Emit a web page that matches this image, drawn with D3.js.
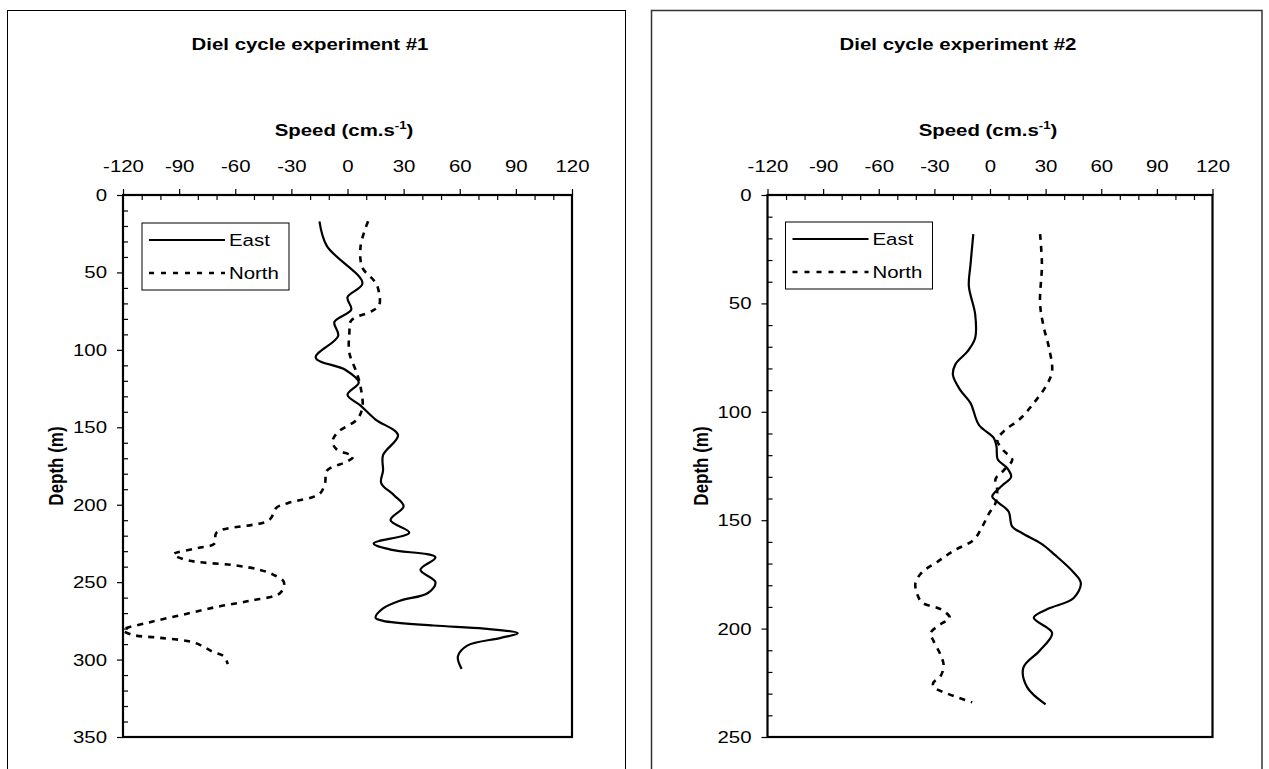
<!DOCTYPE html>
<html>
<head>
<meta charset="utf-8">
<script src="https://cdn.jsdelivr.net/npm/d3@7"></script>
<style>
  html, body { margin: 0; padding: 0; background: #fff; }
  svg { display: block; }
  text { font-family: "Liberation Sans", Arial, sans-serif; fill: #000; }
</style>
</head>
<body>
<svg id="chart" width="1269" height="769"></svg>
<script>
// Speed axis (shared by both panels)
const speedTicks = [-120, -90, -60, -30, 0, 30, 60, 90, 120];
const speedMinor = d3.range(-110, 120, 10).filter(v => v % 30 !== 0);

// Experiment #1: depth (m) and velocity components (cm/s)
const exp1DepthTicks = [0, 50, 100, 150, 200, 250, 300, 350];
const exp1EastDepth = [17, 33, 57, 66, 74, 82, 91, 105, 113, 121, 129, 136, 145, 155, 168, 178, 186, 194, 201, 210, 218, 225, 229, 234, 242, 250, 257, 262, 267, 273, 275, 278, 280, 283, 286, 291, 298, 306];
const exp1East      = [-15, -11, 8, 0, 2, -7, -5, -17, -1, 6, 0, 7, 15, 27, 19, 19, 18, 25, 30, 23, 33, 14, 23, 47, 39, 47, 43, 28, 19, 15, 19, 46, 73, 91, 82, 64, 59, 61];
const exp1NorthDepth = [17, 33, 47, 55, 59, 71, 75, 81, 89, 102, 115, 124, 137, 145, 153, 159, 164, 169, 172, 178, 186, 193, 199, 202, 210, 218, 225, 228, 232, 236, 239, 242, 245, 250, 257, 262, 266, 271, 276, 281, 284, 286, 289, 295, 298, 303];
const exp1North      = [11, 7, 8, 14, 16, 17, 13, 2, 1, 1, 5, 7, 8, 5, -5, -8, -6, 3, 0, -11, -12, -15, -32, -38, -42, -70, -71, -80, -93, -85, -61, -47, -40, -34, -36, -52, -70, -88, -106, -120, -115, -100, -82, -72, -66, -64];

// Experiment #2
const exp2DepthTicks = [0, 50, 100, 150, 200, 250];
const exp2EastDepth = [18, 32, 42, 55, 66, 72, 78, 83, 90, 96, 106, 112, 116, 122, 126, 130, 134, 139, 142, 146, 153, 156, 161, 166, 174, 179, 186, 191, 195, 202, 210, 218, 227, 235];
const exp2East      = [-9, -10.5, -11.4, -8, -8, -12, -18.6, -20, -16, -10.5, -6, 2, 3.5, 4.2, 9.3, 11.4, 6.6, 1.2, 4.7, 10, 12, 17.4, 28, 35, 45, 49, 45, 31, 23.6, 33.5, 27, 18, 20, 30];
const exp2NorthDepth = [18, 32, 50, 61, 70, 81, 87, 96, 103, 109, 113, 118, 122, 127, 131, 136, 142, 147, 153, 159, 164, 169, 174, 179, 184, 188, 191, 195, 198, 202, 206, 212, 217, 222, 225, 227, 230, 234];
const exp2North      = [27, 28, 27, 29, 31.7, 33.5, 31, 23.6, 16.5, 7.4, 3.9, 7.4, 12, 7.4, 3, 3.9, 3, -0.6, -4.2, -8.7, -19.5, -28, -36.6, -40.2, -39.3, -36.6, -26.7, -21.7, -26.7, -32, -30.3, -26.7, -25, -26.7, -30.6, -30.3, -23, -9.6];

const seriesNames = ["East", "North"];

const SX = 1.2;           // horizontal text stretch
const FONT = 17;
const fmt = d => String(d);   // plain hyphen-minus, as in the printed axes

const svg = d3.select("#chart");

function stretchedText(g, x, y, str, opts = {}) {
  const t = g.append("text")
    .attr("transform", `translate(${x},${y}) scale(${SX},1)` + (opts.rotate ? ` rotate(${opts.rotate})` : ""))
    .attr("text-anchor", opts.anchor || "start")
    .attr("font-size", opts.size || FONT)
    .attr("font-weight", opts.bold ? "bold" : "normal");
  if (opts.dy) t.attr("dy", opts.dy);
  t.text(str);
  return t;
}

function drawPanel(cfg) {
  const g = svg.append("g");
  // outer chart area
  g.append("rect")
    .attr("x", cfg.box[0]).attr("y", cfg.box[1])
    .attr("width", cfg.box[2] - cfg.box[0]).attr("height", cfg.box[3] - cfg.box[1])
    .attr("fill", "#fff").attr("stroke", cfg.boxStroke).attr("stroke-width", cfg.boxWidth);

  const [L, T, R, B] = cfg.plot;
  const x = d3.scaleLinear().domain([-120, 120]).range([L, R]);
  const y = d3.scaleLinear().domain([0, cfg.depthMax]).range([T, B]);

  // title and axis titles
  stretchedText(g, cfg.titleX, 50, cfg.title, { anchor: "middle", bold: true });
  const sp = stretchedText(g, cfg.speedX, 136, "", { anchor: "middle", bold: true });
  sp.append("tspan").text("Speed (cm.s");
  sp.append("tspan").attr("font-size", 11).attr("dy", -7).text("-1");
  sp.append("tspan").attr("dy", 7).text(")");
  stretchedText(g, L - 60, (T + B) / 2, "Depth (m)", { anchor: "middle", bold: true, rotate: -90 });

  // top axis: major ticks outward with labels, minor ticks inward
  const top = g.append("g").attr("transform", `translate(0,${T})`)
    .call(d3.axisTop(x).tickValues(speedTicks).tickSize(6).tickPadding(17).tickFormat(fmt));
  const topMinor = g.append("g").attr("transform", `translate(0,${T})`)
    .call(d3.axisBottom(x).tickValues(speedMinor).tickSize(5).tickFormat(""));

  const left = g.append("g").attr("transform", `translate(${L},0)`)
    .call(d3.axisLeft(y).tickValues(cfg.depthTicks).tickSize(6).tickPadding(10).tickFormat(fmt));
  const leftMinor = g.append("g").attr("transform", `translate(${L},0)`)
    .call(d3.axisRight(y).tickValues(d3.range(10, cfg.depthMax, 10).filter(v => v % 50 !== 0)).tickSize(5).tickFormat(""));

  [top, topMinor, left, leftMinor].forEach(a => {
    a.select(".domain").remove();
    a.selectAll(".tick line").attr("stroke", "#000").attr("stroke-width", 1.2);
    a.selectAll("text").attr("font-family", "Liberation Sans, Arial, sans-serif").attr("font-size", FONT).attr("fill", "#000");
  });
  top.selectAll(".tick text").attr("transform", `scale(${SX},1)`);
  left.selectAll(".tick text").attr("x", -16 / SX).attr("transform", `scale(${SX},1)`);

  // plot frame
  g.append("rect").attr("x", L).attr("y", T).attr("width", R - L).attr("height", B - T)
    .attr("fill", "none").attr("stroke", "#000").attr("stroke-width", 2.2);

  // profiles
  const clipId = "clip" + cfg.id;
  g.append("clipPath").attr("id", clipId).append("rect")
    .attr("x", L).attr("y", T).attr("width", R - L).attr("height", B - T);
  const line = d3.line().x(d => x(d[1])).y(d => y(d[0])).curve(d3.curveCatmullRom.alpha(0.5));
  const lines = g.append("g").attr("clip-path", `url(#${clipId})`);
  lines.append("path").datum(d3.zip(cfg.eastDepth, cfg.east))
    .attr("d", line).attr("fill", "none").attr("stroke", "#000").attr("stroke-width", 2.2);
  lines.append("path").datum(d3.zip(cfg.northDepth, cfg.north))
    .attr("d", line).attr("fill", "none").attr("stroke", "#000").attr("stroke-width", 2.6)
    .attr("stroke-dasharray", "6,6");

  // legend
  const lx = L + cfg.legend[0], ly = T + cfg.legend[1];
  const leg = g.append("g");
  leg.append("rect").attr("x", lx).attr("y", ly).attr("width", 147).attr("height", 67)
    .attr("fill", "#fff").attr("stroke", "#000").attr("stroke-width", 1);
  seriesNames.forEach((name, i) => {
    const yy = ly + 17 + i * 33;
    leg.append("line").attr("x1", lx + 7).attr("x2", lx + 83).attr("y1", yy).attr("y2", yy)
      .attr("stroke", "#000").attr("stroke-width", i ? 2.6 : 2.2)
      .attr("stroke-dasharray", i ? "5,7" : null);
    stretchedText(leg, lx + 87, yy, name, { dy: "0.36em" });
  });
}

drawPanel({
  id: 1, box: [7.5, 10.5, 625.5, 800], boxStroke: "#000", boxWidth: 1,
  plot: [123, 195, 572, 737], depthMax: 350, depthTicks: exp1DepthTicks,
  title: "Diel cycle experiment #1", titleX: 310, speedX: 344,
  eastDepth: exp1EastDepth, east: exp1East, northDepth: exp1NorthDepth, north: exp1North,
  legend: [19, 28]
});
drawPanel({
  id: 2, box: [651.5, 10.5, 1262, 800], boxStroke: "#333", boxWidth: 1.5,
  plot: [767.5, 195, 1212.5, 737], depthMax: 250, depthTicks: exp2DepthTicks,
  title: "Diel cycle experiment #2", titleX: 958, speedX: 988,
  eastDepth: exp2EastDepth, east: exp2East, northDepth: exp2NorthDepth, north: exp2North,
  legend: [18, 27]
});
</script>
</body>
</html>
